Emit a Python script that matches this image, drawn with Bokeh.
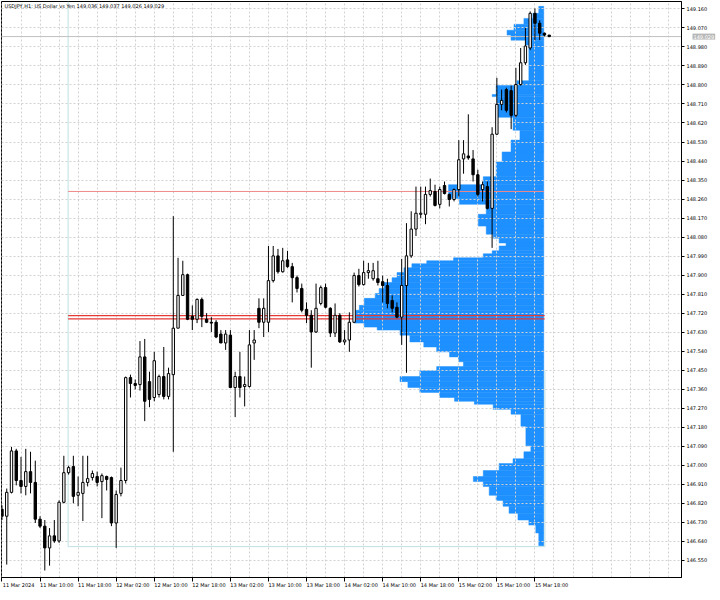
from bokeh.plotting import figure
from bokeh.models import Range1d, FixedTicker, ColumnDataSource, Label, PrintfTickFormatter, LinearAxis
from bokeh.embed import file_html
from bokeh.resources import INLINE

# ---------------- data (USDJPY H1) ----------------
bars = list(range(116))
opens = [146.792, 146.759, 146.872, 147.068, 146.928, 146.900, 146.970, 146.919, 146.745, 146.712,
         146.609, 146.666, 146.642, 146.825, 146.965, 146.994, 146.858, 146.867, 146.919, 146.942,
         146.947, 146.923, 146.947, 146.942, 146.727, 146.867, 146.928, 147.415, 147.387, 147.382,
         147.513, 147.396, 147.321, 147.335, 147.420, 147.326, 147.429, 147.649, 147.804, 147.902,
         147.705, 147.691, 147.785, 147.691, 147.677, 147.677, 147.621, 147.579, 147.616, 147.368,
         147.420, 147.373, 147.373, 147.579, 147.743, 147.677, 147.677, 147.874, 147.991, 147.916,
         147.972, 147.940, 147.888, 147.837, 147.738, 147.710, 147.631, 147.766, 147.841, 147.743,
         147.626, 147.710, 147.584, 147.593, 147.677, 147.898, 147.855, 147.912, 147.883, 147.883,
         147.869, 147.851, 147.780, 147.748, 147.701, 147.851, 147.991, 148.118, 148.188, 148.188,
         148.282, 148.296, 148.235, 148.324, 148.282, 148.258, 148.305, 148.450, 148.464, 148.450,
         148.375, 148.305, 148.319, 148.216, 148.567, 148.708, 148.778, 148.773, 148.656, 148.802,
         148.905, 148.975, 149.139, 149.092, 149.045, 149.036]
highs = [146.811, 146.890, 147.087, 147.078, 147.040, 147.078, 147.064, 147.022, 146.759, 146.741,
         146.703, 146.741, 146.834, 147.045, 146.998, 147.045, 146.947, 147.045, 147.045, 146.975,
         146.970, 146.961, 146.951, 146.947, 146.881, 146.989, 147.420, 147.429, 147.406, 147.588,
         147.598, 147.443, 147.537, 147.429, 147.560, 147.462, 148.179, 147.982, 147.968, 147.907,
         147.757, 147.790, 147.794, 147.720, 147.701, 147.687, 147.640, 147.640, 147.640, 147.443,
         147.537, 147.420, 147.640, 147.640, 147.790, 147.790, 148.038, 148.038, 148.024, 148.029,
         148.015, 147.958, 147.898, 147.860, 147.771, 147.734, 147.860, 147.851, 147.860, 147.748,
         147.766, 147.720, 147.640, 147.724, 147.912, 147.930, 147.968, 147.958, 147.958, 147.968,
         147.898, 147.883, 147.804, 147.771, 147.977, 148.146, 148.202, 148.319, 148.319, 148.319,
         148.357, 148.328, 148.319, 148.343, 148.286, 148.310, 148.539, 148.539, 148.661, 148.492,
         148.399, 148.343, 148.343, 148.600, 148.834, 148.778, 148.787, 148.797, 148.881, 148.975,
         149.069, 149.148, 149.162, 149.106, 149.048, 149.037]
lows = [146.741, 146.530, 146.867, 146.905, 146.867, 146.858, 146.867, 146.727, 146.703, 146.502,
        146.525, 146.633, 146.633, 146.820, 146.956, 146.820, 146.806, 146.736, 146.900, 146.928,
        146.900, 146.750, 146.881, 146.712, 146.609, 146.853, 146.914, 147.321, 147.359, 147.354,
        147.209, 147.275, 147.303, 147.321, 147.312, 147.312, 147.064, 147.649, 147.804, 147.687,
        147.640, 147.673, 147.654, 147.673, 147.631, 147.602, 147.579, 147.546, 147.368, 147.228,
        147.321, 147.279, 147.368, 147.499, 147.649, 147.607, 147.631, 147.865, 147.907, 147.912,
        147.935, 147.771, 147.818, 147.724, 147.673, 147.462, 147.626, 147.757, 147.743, 147.607,
        147.607, 147.579, 147.570, 147.537, 147.673, 147.846, 147.851, 147.883, 147.874, 147.851,
        147.771, 147.743, 147.724, 147.696, 147.570, 147.438, 147.982, 148.085, 148.169, 148.141,
        148.272, 148.225, 148.216, 148.282, 148.225, 148.249, 148.272, 148.380, 148.446, 148.343,
        148.272, 148.249, 148.211, 148.029, 148.563, 148.680, 148.670, 148.591, 148.647, 148.797,
        148.895, 148.965, 149.012, 149.012, 149.030, 149.026]
closes = [146.759, 146.872, 147.068, 146.928, 146.900, 146.970, 146.919, 146.745, 146.712, 146.609,
          146.666, 146.642, 146.825, 146.965, 146.989, 146.853, 146.872, 146.919, 146.937, 146.961,
          146.919, 146.951, 146.933, 146.727, 146.862, 146.928, 147.415, 147.387, 147.378, 147.513,
          147.303, 147.312, 147.495, 147.420, 147.326, 147.434, 147.649, 147.804, 147.902, 147.691,
          147.691, 147.785, 147.705, 147.677, 147.673, 147.607, 147.579, 147.621, 147.368, 147.420,
          147.368, 147.382, 147.570, 147.593, 147.677, 147.743, 147.874, 147.991, 147.916, 147.968,
          147.940, 147.888, 147.837, 147.734, 147.710, 147.631, 147.743, 147.841, 147.748, 147.626,
          147.710, 147.584, 147.593, 147.677, 147.898, 147.855, 147.912, 147.921, 147.921, 147.865,
          147.851, 147.766, 147.743, 147.701, 147.851, 147.991, 148.118, 148.193, 148.193, 148.282,
          148.300, 148.230, 148.305, 148.286, 148.258, 148.305, 148.446, 148.474, 148.455, 148.375,
          148.282, 148.328, 148.216, 148.567, 148.708, 148.727, 148.680, 148.656, 148.802, 148.905,
          148.984, 149.139, 149.092, 149.045, 149.036, 149.029]

time_ticks = [0, 8, 16, 24, 32, 40, 48, 56, 64, 72, 80, 88, 96, 104, 112]
time_labels = ["11 Mar 2024", "11 Mar 10:00", "11 Mar 18:00", "12 Mar 02:00", "12 Mar 10:00",
               "12 Mar 18:00", "13 Mar 02:00", "13 Mar 10:00", "13 Mar 18:00", "14 Mar 02:00",
               "14 Mar 10:00", "14 Mar 18:00", "15 Mar 02:00", "15 Mar 10:00", "15 Mar 18:00"]
price_ticks = [146.550, 146.640, 146.730, 146.820, 146.910, 147.000, 147.090, 147.180, 147.270,
               147.360, 147.450, 147.540, 147.630, 147.720, 147.810, 147.900, 147.990, 148.080,
               148.170, 148.260, 148.350, 148.440, 148.530, 148.620, 148.710, 148.800, 148.890,
               148.980, 149.070, 149.160]

# volume profile: price level edges (top -> bottom) and volume in each band
prof_edges = [149.172, 149.139, 149.115, 149.087, 149.059, 149.036, 149.012, 148.989, 148.820, 148.797,
              148.755, 148.745, 148.647, 148.586, 148.539, 148.483, 148.436, 148.366, 148.328, 148.263,
              148.235, 148.188, 148.132, 148.094, 148.075, 148.052, 148.038, 148.015, 148.001, 147.982,
              147.968, 147.954, 147.935, 147.912, 147.888, 147.865, 147.837, 147.813, 147.790, 147.757,
              147.734, 147.710, 147.673, 147.654, 147.640, 147.616, 147.584, 147.560, 147.537, 147.513,
              147.490, 147.467, 147.448, 147.420, 147.396, 147.368, 147.345, 147.321, 147.303, 147.289,
              147.265, 147.242, 147.185, 147.092, 147.064, 147.031, 147.008, 146.975, 146.947, 146.923,
              146.900, 146.858, 146.834, 146.806, 146.773, 146.741, 146.717, 146.680, 146.619]
prof_vol = [5, 11, 20, 30, 37, 33, 18, 15, 27, 48,
            52, 47, 31, 24, 33, 42, 48, 61, 96, 85,
            58, 66, 58, 51, 45, 38, 45, 52, 61, 91,
            118, 133, 141, 148, 153, 161, 166, 170, 181, 186,
            190, 191, 181, 168, 145, 135, 121, 108, 95, 86,
            81, 108, 125, 145, 137, 125, 105, 90, 70, 51,
            33, 23, 18, 13, 20, 31, 45, 61, 71, 61,
            55, 48, 41, 35, 26, 15, 8, 5]

poc_lines = [147.708, 147.693]
vah_price = 148.296
range_low = 146.615
range_start = 13.9       # bar where the profile range begins
profile_anchor = 113.85  # bar where the profile's right edge sits
bid = 149.029
title_text = "USDJPY,H1: US Dollar vs Yen 149.036 149.037 149.026 149.029"

# ---------------- figure ----------------
FONT = "DejaVu Sans"
FS = "5px"
x0, x1 = -0.1, 142.8
y0, y1 = 146.469, 149.195

p = figure(frame_width=680, frame_height=576, x_range=Range1d(x0, x1), y_range=Range1d(y0, y1),
           output_backend="svg", toolbar_location=None, y_axis_location="right",
           min_border_left=1, min_border_top=1, min_border_right=0, min_border_bottom=0,
           background_fill_color="white", border_fill_color="white")
p.outline_line_color = "black"
p.outline_line_width = 1
p.outline_line_alpha = 1

for ax in (p.xaxis[0], p.yaxis[0]):
    ax.axis_line_color = "black"
    ax.major_tick_line_color = "black"
    ax.major_tick_in = 0
    ax.major_tick_out = 3
    ax.minor_tick_line_color = None
    ax.major_label_text_font = FONT
    ax.major_label_text_font_size = FS
    ax.major_label_text_color = "black"
    ax.major_label_standoff = 2

p.yaxis.ticker = FixedTicker(ticks=price_ticks)
p.yaxis.formatter = PrintfTickFormatter(format="%.3f")

# time axis: tick marks at the bar of each label, labels written to the right of their tick
xa = p.xaxis[0]
xa.ticker = FixedTicker(ticks=time_ticks)
xa.major_label_overrides = {t: "" for t in time_ticks}
xa.major_label_text_font_size = "1px"
xa.major_label_standoff = 0
xa.major_tick_out = 4
label_shift = 3.5
lab_ticks = [t + label_shift for t in time_ticks]
xl = LinearAxis(ticker=FixedTicker(ticks=lab_ticks),
                major_label_overrides={t: l for t, l in zip(lab_ticks, time_labels)},
                axis_line_color=None, major_tick_line_color=None, minor_tick_line_color=None,
                major_tick_out=0, major_tick_in=0, major_label_standoff=0,
                major_label_text_font=FONT, major_label_text_font_size=FS,
                major_label_text_color="black")
p.add_layout(xl, "below")

p.xgrid.ticker = FixedTicker(ticks=list(range(0, 144, 4)))
p.grid.grid_line_color = "#d2d2d2"
p.grid.grid_line_dash = "2 2"
p.grid.grid_line_width = 1

# volume profile
mids = [(a + b) / 2 for a, b in zip(prof_edges[:-1], prof_edges[1:])]
heights = [a - b for a, b in zip(prof_edges[:-1], prof_edges[1:])]
lefts = [profile_anchor - v / 4.8 for v in prof_vol]
p.hbar(y=mids, height=heights, left=lefts, right=profile_anchor, fill_color="#1e90ff",
       line_color="#1e90ff", line_width=0.5, level="image")

# range box lines
p.segment(x0=[range_start], y0=[range_low], x1=[range_start], y1=[y1], line_color="#bfe0e4", line_width=1)
p.segment(x0=[range_start], y0=[range_low], x1=[profile_anchor + 0.25], y1=[range_low],
          line_color="#bfe0e4", line_width=1)
p.segment(x0=[profile_anchor + 0.25], y0=[range_low], x1=[profile_anchor + 0.25], y1=[147.45],
          line_color="#bfe0e4", line_width=1)
p.segment(x0=[range_start], y0=[vah_price], x1=[profile_anchor], y1=[vah_price],
          line_color="#f08888", line_width=1)
p.segment(x0=[range_start] * 2, y0=poc_lines, x1=[profile_anchor + 0.2] * 2, y1=poc_lines,
          line_color="#e53935", line_width=1.2)

# bid line
p.segment(x0=[x0], y0=[bid], x1=[x1], y1=[bid], line_color="#c0c0c0", line_width=1)

# candles
tops = [max(o, c) for o, c in zip(opens, closes)]
bots = [min(o, c) for o, c in zip(opens, closes)]
fills = ["white" if c >= o else "black" for o, c in zip(opens, closes)]
src = ColumnDataSource(dict(x=bars, high=highs, low=lows, top=tops, bottom=bots, fill=fills))
p.segment(x0="x", y0="high", x1="x", y1="low", source=src, line_color="black", line_width=1)
p.vbar(x="x", width=0.5, top="top", bottom="bottom", fill_color="fill", line_color="black",
       line_width=1, source=src)

p.add_layout(Label(x=x0, y=y1, x_offset=3, y_offset=-1, text=title_text, text_font=FONT,
                   text_font_size=FS, text_color="black", text_baseline="top", text_align="left"))
# bid price tag drawn over the price-axis labels
p.add_layout(Label(x=-18, x_units="screen", y=bid, text=f"{bid:.3f}", text_font=FONT,
                   text_font_size=FS, text_color="white", text_baseline="middle", text_align="left",
                   background_fill_color="#b8b8b8", padding=1), "right")

open("out.html", "w").write(file_html(p, INLINE))
